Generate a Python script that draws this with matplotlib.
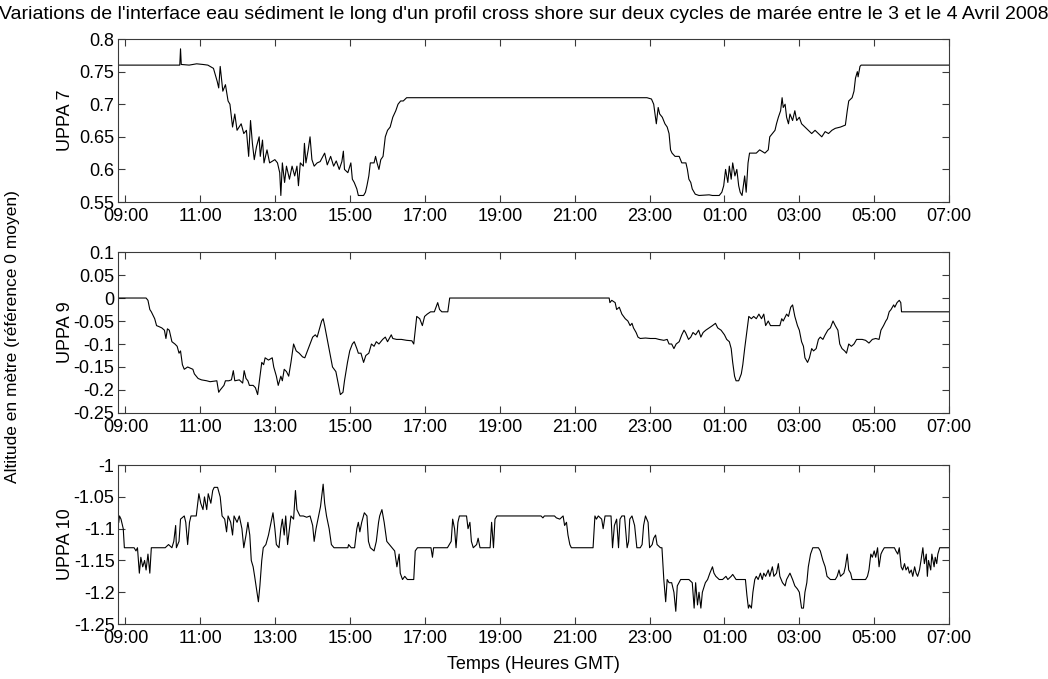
import matplotlib

matplotlib.use("Agg")

import matplotlib.pyplot as plt  # noqa: E402
from matplotlib.ticker import FuncFormatter, MultipleLocator  # noqa: E402

plt.rcParams["font.family"] = ["Liberation Sans", "DejaVu Sans"]
plt.rcParams["axes.unicode_minus"] = False

# time in hours since 00:00 on 3 April (24+ = 4 April)
t7 = [8.8, 10.45, 10.47, 10.49, 10.7, 10.9, 11.07, 11.2, 11.35, 11.45, 11.49, 11.53, 11.6, 11.67, 11.74,
      11.79, 11.86, 11.92, 11.98, 12.09, 12.16, 12.23, 12.29, 12.34, 12.39, 12.44, 12.5, 12.57, 12.6,
      12.66, 12.7, 12.78, 12.85, 12.99, 13.06, 13.12, 13.15, 13.19, 13.25, 13.3, 13.38, 13.45, 13.52,
      13.58, 13.62, 13.67, 13.75, 13.78, 13.82, 13.88, 13.93, 13.98, 14.04, 14.12, 14.2, 14.32, 14.39,
      14.48, 14.56, 14.63, 14.71, 14.78, 14.82, 14.85, 14.94, 15.02, 15.06, 15.11, 15.18, 15.22, 15.36,
      15.41, 15.45, 15.5, 15.54, 15.64, 15.68, 15.72, 15.77, 15.82, 15.88, 15.94, 16.0, 16.07, 16.14,
      16.22, 16.28, 16.35, 16.42, 16.51, 22.93, 23.05, 23.11, 23.18, 23.23, 23.27, 23.34, 23.41, 23.47,
      23.52, 23.56, 23.6, 23.68, 23.74, 23.79, 23.86, 23.97, 24.01, 24.05, 24.1, 24.14, 24.22, 24.32,
      24.59, 24.68, 24.86, 24.93, 24.98, 25.03, 25.09, 25.13, 25.18, 25.22, 25.28, 25.33, 25.38, 25.42,
      25.47, 25.54, 25.58, 25.63, 25.67, 25.85, 25.94, 26.08, 26.17, 26.21, 26.28, 26.35, 26.39, 26.44,
      26.5, 26.54, 26.57, 26.62, 26.66, 26.71, 26.75, 26.82, 26.88, 26.93, 27.0, 27.06, 27.15, 27.24,
      27.33, 27.42, 27.51, 27.6, 27.69, 27.78, 27.87, 27.96, 28.1, 28.23, 28.28, 28.32, 28.41, 28.46,
      28.5, 28.55, 28.57, 28.62, 28.65, 31.0]
v7 = [0.76, 0.76, 0.785, 0.761, 0.76, 0.762, 0.761, 0.76, 0.755, 0.735, 0.725, 0.758, 0.72, 0.73, 0.705,
      0.70, 0.665, 0.685, 0.66, 0.67, 0.655, 0.66, 0.62, 0.675, 0.64, 0.615, 0.635, 0.65, 0.62,
      0.645, 0.61, 0.63, 0.61, 0.615, 0.61, 0.595, 0.56, 0.61, 0.58, 0.605, 0.585, 0.605, 0.59,
      0.605, 0.575, 0.61, 0.605, 0.64, 0.61, 0.63, 0.65, 0.615, 0.605, 0.61, 0.612, 0.625, 0.607,
      0.62, 0.605, 0.613, 0.60, 0.612, 0.628, 0.60, 0.595, 0.61, 0.585, 0.58, 0.57, 0.56, 0.56,
      0.565, 0.575, 0.59, 0.61, 0.61, 0.62, 0.61, 0.60, 0.615, 0.62, 0.65, 0.66, 0.665, 0.68,
      0.69, 0.70, 0.705, 0.705, 0.71, 0.71, 0.708, 0.70, 0.67, 0.695, 0.685, 0.68, 0.67, 0.665,
      0.655, 0.63, 0.625, 0.62, 0.62, 0.62, 0.61, 0.61, 0.60, 0.585, 0.58, 0.57, 0.562, 0.56,
      0.561, 0.56, 0.56, 0.565, 0.575, 0.60, 0.58, 0.605, 0.585, 0.61, 0.59, 0.60, 0.575, 0.565,
      0.56, 0.59, 0.565, 0.61, 0.625, 0.625, 0.63, 0.625, 0.63, 0.65, 0.655, 0.66, 0.67, 0.68,
      0.69, 0.71, 0.695, 0.70, 0.68, 0.67, 0.685, 0.675, 0.69, 0.675, 0.68, 0.67, 0.665, 0.66,
      0.655, 0.66, 0.655, 0.65, 0.658, 0.655, 0.66, 0.663, 0.665, 0.668, 0.69, 0.705, 0.71, 0.72,
      0.74, 0.75, 0.742, 0.758, 0.76, 0.76]

t9 = [8.8, 9.55, 9.6, 9.65, 9.69, 9.78, 9.83, 9.89, 9.97, 10.04, 10.08, 10.12, 10.17, 10.24, 10.32,
      10.38, 10.43, 10.47, 10.52, 10.57, 10.66, 10.8, 10.84, 10.94, 11.03, 11.17, 11.26, 11.44, 11.49,
      11.53, 11.63, 11.67, 11.76, 11.83, 11.88, 11.92, 12.04, 12.13, 12.17, 12.22, 12.27, 12.31, 12.41,
      12.47, 12.53, 12.57, 12.64, 12.69, 12.73, 12.82, 12.92, 12.96, 13.03, 13.08, 13.15, 13.19, 13.24,
      13.3, 13.36, 13.42, 13.49, 13.56, 13.64, 13.73, 13.79, 13.86, 13.93, 14.0, 14.07, 14.12, 14.19,
      14.24, 14.28, 14.32, 14.39, 14.46, 14.53, 14.62, 14.68, 14.74, 14.81, 14.85, 14.93, 14.99, 15.06,
      15.11, 15.18, 15.22, 15.29, 15.36, 15.42, 15.5, 15.57, 15.64, 15.7, 15.77, 15.87, 15.94, 16.0,
      16.1, 16.14, 16.24, 16.37, 16.51, 16.65, 16.7, 16.74, 16.78, 16.86, 16.93, 16.99, 17.06, 17.15,
      17.25, 17.34, 17.39, 17.45, 17.53, 17.61, 17.66, 21.92, 21.94, 21.99, 22.08, 22.12, 22.19, 22.26,
      22.35, 22.42, 22.48, 22.53, 22.57, 22.64, 22.69, 22.75, 22.89, 23.02, 23.16, 23.25, 23.38, 23.47,
      23.52, 23.59, 23.65, 23.71, 23.79, 23.86, 23.92, 23.96, 24.04, 24.1, 24.16, 24.23, 24.31, 24.37,
      24.43, 24.5, 24.59, 24.68, 24.76, 24.82, 24.91, 25.0, 25.06, 25.13, 25.18, 25.22, 25.27, 25.31,
      25.38, 25.45, 25.49, 25.54, 25.58, 25.65, 25.72, 25.78, 25.85, 25.92, 25.99, 26.05, 26.1, 26.17,
      26.23, 26.3, 26.39, 26.48, 26.53, 26.57, 26.66, 26.71, 26.77, 26.82, 26.88, 26.95, 27.0, 27.06,
      27.11, 27.15, 27.22, 27.27, 27.33, 27.38, 27.45, 27.51, 27.56, 27.63, 27.69, 27.76, 27.83, 27.9,
      27.96, 28.03, 28.08, 28.14, 28.21, 28.26, 28.32, 28.39, 28.46, 28.53, 28.59, 28.68, 28.77, 28.86,
      28.95, 29.04, 29.13, 29.18, 29.25, 29.31, 29.35, 29.4, 29.45, 29.52, 29.55, 29.61, 29.67, 29.71,
      29.73, 31.0]
v9 = [0.0, 0.0, -0.005, -0.025, -0.03, -0.045, -0.06, -0.062, -0.065, -0.07, -0.088, -0.067, -0.07, -0.095, -0.1,
      -0.105, -0.12, -0.115, -0.145, -0.155, -0.15, -0.155, -0.165, -0.175, -0.178, -0.18, -0.182, -0.18, -0.205,
      -0.2, -0.19, -0.18, -0.18, -0.178, -0.158, -0.18, -0.178, -0.185, -0.158, -0.175, -0.18, -0.19, -0.19,
      -0.195, -0.21, -0.185, -0.14, -0.145, -0.13, -0.135, -0.13, -0.15, -0.17, -0.19, -0.17, -0.18, -0.155,
      -0.16, -0.17, -0.14, -0.1, -0.115, -0.12, -0.128, -0.13, -0.115, -0.1, -0.085, -0.08, -0.085, -0.065,
      -0.05, -0.045, -0.06, -0.09, -0.12, -0.15, -0.16, -0.185, -0.21, -0.205, -0.18, -0.14, -0.115, -0.1,
      -0.095, -0.11, -0.12, -0.12, -0.14, -0.125, -0.12, -0.1, -0.105, -0.095, -0.1, -0.09, -0.085, -0.095,
      -0.08, -0.088, -0.09, -0.09, -0.092, -0.093, -0.1, -0.07, -0.04, -0.045, -0.06, -0.04, -0.035, -0.03,
      -0.03, -0.01, -0.025, -0.03, -0.03, -0.03, 0.0, 0.0, -0.01, -0.005, -0.01, -0.025, -0.02, -0.035,
      -0.045, -0.05, -0.06, -0.055, -0.065, -0.075, -0.085, -0.088, -0.087, -0.088, -0.088, -0.09, -0.092, -0.09,
      -0.1, -0.1, -0.11, -0.1, -0.095, -0.08, -0.07, -0.075, -0.09, -0.085, -0.075, -0.08, -0.07, -0.085,
      -0.075, -0.07, -0.065, -0.06, -0.055, -0.065, -0.07, -0.08, -0.09, -0.095, -0.11, -0.14, -0.17, -0.18,
      -0.18, -0.165, -0.145, -0.11, -0.085, -0.04, -0.045, -0.04, -0.045, -0.035, -0.045, -0.035, -0.06, -0.05,
      -0.06, -0.06, -0.06, -0.06, -0.045, -0.05, -0.035, -0.04, -0.02, -0.015, -0.04, -0.06, -0.07, -0.095,
      -0.105, -0.13, -0.14, -0.13, -0.11, -0.115, -0.11, -0.09, -0.085, -0.09, -0.08, -0.07, -0.065, -0.05,
      -0.06, -0.07, -0.1, -0.11, -0.115, -0.12, -0.1, -0.105, -0.1, -0.09, -0.09, -0.09, -0.092, -0.098,
      -0.09, -0.088, -0.09, -0.07, -0.06, -0.05, -0.045, -0.03, -0.025, -0.015, -0.02, -0.01, -0.005, -0.01,
      -0.03, -0.03]

t10 = [8.82, 8.84, 8.88, 8.94, 8.97, 9.23, 9.28, 9.32, 9.37, 9.41, 9.46, 9.51, 9.55, 9.6, 9.65,
       9.69, 10.06, 10.15, 10.24, 10.29, 10.34, 10.36, 10.43, 10.47, 10.57, 10.61, 10.66, 10.71, 10.75,
       10.89, 10.96, 11.01, 11.07, 11.11, 11.17, 11.21, 11.28, 11.33, 11.37, 11.46, 11.53, 11.58, 11.65,
       11.7, 11.74, 11.81, 11.86, 11.9, 11.98, 12.04, 12.11, 12.16, 12.22, 12.27, 12.32, 12.36, 12.41,
       12.45, 12.5, 12.55, 12.59, 12.64, 12.68, 12.75, 12.82, 12.89, 12.94, 12.99, 13.03, 13.1, 13.15,
       13.19, 13.24, 13.28, 13.33, 13.38, 13.42, 13.49, 13.54, 13.58, 13.66, 13.75, 13.84, 13.93, 14.0,
       14.04, 14.09, 14.16, 14.21, 14.25, 14.28, 14.32, 14.37, 14.44, 14.5, 14.57, 14.85, 14.94, 14.96,
       15.03, 15.12, 15.18, 15.22, 15.26, 15.31, 15.38, 15.45, 15.49, 15.54, 15.64, 15.7, 15.76, 15.79,
       15.85, 15.91, 15.98, 16.05, 16.12, 16.19, 16.25, 16.31, 16.34, 16.4, 16.46, 16.53, 16.7, 16.74,
       16.8, 17.16, 17.2, 17.23, 17.6, 17.7, 17.74, 17.79, 17.83, 17.88, 17.92, 18.01, 18.11, 18.15,
       18.2, 18.24, 18.29, 18.38, 18.42, 18.47, 18.74, 18.78, 18.83, 18.87, 18.92, 20.1, 20.15, 20.19,
       20.46, 20.51, 20.6, 20.69, 20.73, 20.78, 20.82, 20.87, 20.91, 21.49, 21.54, 21.58, 21.63, 21.72,
       21.76, 21.81, 21.97, 22.01, 22.06, 22.12, 22.17, 22.21, 22.26, 22.33, 22.4, 22.44, 22.47, 22.53,
       22.6, 22.66, 22.75, 22.8, 22.84, 22.89, 22.96, 23.0, 23.07, 23.11, 23.16, 23.2, 23.29, 23.33,
       23.38, 23.43, 23.47, 23.52, 23.59, 23.65, 23.7, 23.74, 23.83, 23.96, 24.05, 24.14, 24.19, 24.23,
       24.28, 24.32, 24.37, 24.41, 24.49, 24.55, 24.61, 24.68, 24.72, 24.77, 24.86, 24.95, 25.04, 25.09,
       25.18, 25.22, 25.31, 25.56, 25.6, 25.64, 25.67, 25.72, 25.76, 25.81, 25.85, 25.9, 25.96, 26.01,
       26.05, 26.1, 26.17, 26.21, 26.28, 26.32, 26.39, 26.44, 26.48, 26.55, 26.62, 26.66, 26.75, 26.82,
       26.88, 26.95, 27.0, 27.06, 27.11, 27.15, 27.2, 27.24, 27.3, 27.36, 27.51, 27.56, 27.63, 27.69,
       27.74, 27.83, 27.96, 28.01, 28.06, 28.1, 28.19, 28.23, 28.28, 28.32, 28.37, 28.41, 28.5, 28.64,
       28.77, 28.82, 28.86, 28.91, 28.95, 29.0, 29.04, 29.09, 29.13, 29.18, 29.22, 29.27, 29.54, 29.58,
       29.63, 29.67, 29.72, 29.76, 29.81, 29.85, 29.9, 29.94, 29.99, 30.03, 30.08, 30.12, 30.16, 30.21,
       30.25, 30.3, 30.34, 30.39, 30.42, 30.45, 30.51, 30.54, 30.6, 30.63, 30.67, 30.7, 30.75, 31.0]
v10 = [-1.09, -1.08, -1.085, -1.1, -1.13, -1.13, -1.135, -1.13, -1.17, -1.145, -1.16, -1.15, -1.165, -1.14, -1.17,
       -1.13, -1.13, -1.125, -1.13, -1.12, -1.095, -1.13, -1.12, -1.085, -1.08, -1.09, -1.125, -1.09, -1.08,
       -1.08, -1.045, -1.06, -1.07, -1.05, -1.07, -1.045, -1.06, -1.04, -1.035, -1.035, -1.05, -1.08, -1.085,
       -1.105, -1.08, -1.09, -1.11, -1.08, -1.09, -1.08, -1.1, -1.13, -1.11, -1.09, -1.11, -1.15, -1.16,
       -1.175, -1.195, -1.215, -1.19, -1.15, -1.13, -1.125, -1.11, -1.09, -1.075, -1.1, -1.125, -1.13, -1.1,
       -1.085, -1.11, -1.08, -1.125, -1.1, -1.08, -1.085, -1.04, -1.07, -1.08, -1.08, -1.082, -1.08, -1.095,
       -1.12, -1.1, -1.08, -1.065, -1.045, -1.03, -1.06, -1.08, -1.1, -1.125, -1.13, -1.13, -1.13, -1.125,
       -1.13, -1.13, -1.1, -1.09, -1.105, -1.09, -1.075, -1.08, -1.12, -1.13, -1.135, -1.12, -1.09, -1.08,
       -1.07, -1.09, -1.12, -1.125, -1.13, -1.135, -1.16, -1.14, -1.17, -1.18, -1.175, -1.18, -1.18, -1.135,
       -1.13, -1.13, -1.145, -1.13, -1.13, -1.12, -1.085, -1.1, -1.13, -1.09, -1.08, -1.08, -1.08, -1.1,
       -1.09, -1.12, -1.13, -1.125, -1.115, -1.13, -1.13, -1.09, -1.13, -1.085, -1.08, -1.08, -1.083, -1.08,
       -1.08, -1.083, -1.085, -1.08, -1.095, -1.09, -1.11, -1.125, -1.13, -1.13, -1.08, -1.085, -1.08, -1.085,
       -1.1, -1.08, -1.08, -1.13, -1.095, -1.085, -1.13, -1.085, -1.08, -1.08, -1.13, -1.12, -1.085, -1.08,
       -1.095, -1.13, -1.13, -1.125, -1.095, -1.08, -1.09, -1.13, -1.125, -1.115, -1.11, -1.125, -1.13, -1.13,
       -1.18, -1.215, -1.18, -1.185, -1.185, -1.2, -1.23, -1.19, -1.18, -1.18, -1.18, -1.185, -1.225, -1.185,
       -1.22, -1.2, -1.225, -1.2, -1.185, -1.18, -1.17, -1.16, -1.17, -1.175, -1.18, -1.18, -1.175, -1.18,
       -1.175, -1.172, -1.18, -1.18, -1.205, -1.225, -1.22, -1.225, -1.2, -1.18, -1.175, -1.18, -1.17, -1.18,
       -1.17, -1.175, -1.165, -1.175, -1.16, -1.175, -1.17, -1.155, -1.175, -1.185, -1.19, -1.18, -1.17, -1.18,
       -1.19, -1.195, -1.2, -1.225, -1.225, -1.2, -1.185, -1.16, -1.14, -1.13, -1.13, -1.135, -1.15, -1.16,
       -1.175, -1.18, -1.18, -1.175, -1.165, -1.175, -1.17, -1.16, -1.14, -1.165, -1.17, -1.18, -1.18, -1.18,
       -1.18, -1.175, -1.165, -1.14, -1.145, -1.135, -1.145, -1.13, -1.16, -1.14, -1.135, -1.13, -1.13, -1.135,
       -1.14, -1.13, -1.16, -1.165, -1.155, -1.165, -1.16, -1.17, -1.165, -1.175, -1.16, -1.17, -1.175, -1.165,
       -1.15, -1.13, -1.155, -1.14, -1.175, -1.15, -1.165, -1.14, -1.16, -1.145, -1.155, -1.14, -1.13, -1.13]

series = [
    (t7, v7, "UPPA 7", (0.55, 0.8)),
    (t9, v9, "UPPA 9", (-0.25, 0.1)),
    (t10, v10, "UPPA 10", (-1.25, -1.0)),
]
hour_ticks = [9, 11, 13, 15, 17, 19, 21, 23, 25, 27, 29, 31]

# axes boxes in figure fractions (left, bottom, width, height)
boxes = [
    (0.1126, 0.7025, 0.793, 0.240),
    (0.1126, 0.3918, 0.793, 0.237),
    (0.1126, 0.0810, 0.793, 0.234),
]

fs = 13
fig = plt.figure(figsize=(10.48, 6.79), dpi=100)
edge = "#3a3a3a"

for (t, v, name, ylim), box in zip(series, boxes):
    ax = fig.add_axes(box)
    ax.plot(t, v, color="black", linewidth=0.8)
    ax.set_xlim(8.8, 31)
    ax.set_ylim(*ylim)
    ax.set_xticks(hour_ticks)
    ax.xaxis.set_major_formatter(FuncFormatter(lambda h, _: f"{int(round(h)) % 24:02d}:00"))
    ax.yaxis.set_major_locator(MultipleLocator(0.05))
    ax.yaxis.set_major_formatter(FuncFormatter(lambda y, _: f"{round(y, 2):g}"))
    ax.tick_params(direction="in", length=5, width=0.8, colors=edge, labelcolor="black",
                   labelsize=fs, top=True, right=True)
    ax.tick_params(axis="x", pad=4.5)
    ax.tick_params(axis="y", pad=2.5)
    for s in ax.spines.values():
        s.set_color(edge)
        s.set_linewidth(0.8)
    ax.set_ylabel(name, fontsize=fs)
    ax.yaxis.set_label_coords(-0.053, 0.5)

fig.text(0.5, 0.979, "Variations de l'interface eau sédiment le long d'un profil cross shore "
         "sur deux cycles de marée entre le 3 et le 4 Avril 2008",
         ha="center", va="center", fontsize=14)
fig.text(0.012, 0.504, "Altitude en mètre (référence 0 moyen)", rotation=90,
         ha="center", va="center", fontsize=12.5)
fig.text(0.509, 0.022, "Temps (Heures GMT)", ha="center", va="center", fontsize=13)

fig.savefig("out.png", dpi=100)
plt.close(fig)
